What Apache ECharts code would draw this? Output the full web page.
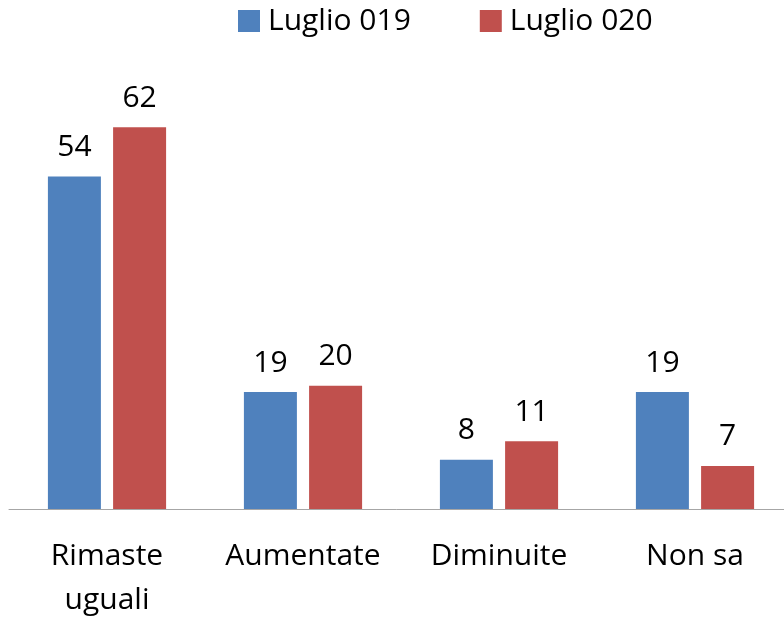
<!DOCTYPE html>
<html><head><meta charset="utf-8">
<script src="https://cdn.jsdelivr.net/npm/echarts@6/dist/echarts.min.js"></script>
<style>html,body{margin:0;padding:0;background:#fff}#c{width:784px;height:617px}</style>
</head><body><div id="c"></div>
<script>
const categories = ['Rimaste\nuguali', 'Aumentate', 'Diminuite', 'Non sa'];
const seriesNames = ['Luglio 019', 'Luglio 020'];
const values2019 = [54, 19, 8, 19];
const values2020 = [62, 20, 11, 7];
const colors = ['#4F81BD', '#C0504D'];
const FONT = 'Open Sans';
const FS = 30;
const chart = echarts.init(document.getElementById('c'));
chart.setOption({
  animation: false,
  textStyle: {fontFamily: FONT},
  legend: {
    top: 1, left: 233, itemWidth: 22, itemHeight: 22, itemGap: 69,
    icon: 'rect',
    textStyle: {fontFamily: FONT, fontSize: FS, color: '#000', padding: [0, 0, 0, 3]},
    data: seriesNames
  },
  grid: {left: 9, right: -9, top: 78, bottom: 108, outerBoundsMode: 'none', containLabel: false},
  xAxis: {
    type: 'category', data: categories,
    axisLine: {lineStyle: {color: '#A6A6A6', width: 1}},
    axisTick: {show: false},
    axisLabel: {fontFamily: FONT, fontSize: FS, color: '#000', lineHeight: 44, margin: 25, interval: 0}
  },
  yAxis: {type: 'value', min: 0, max: 70, show: false, splitLine: {show: false}},
  series: [
    {name: seriesNames[0], type: 'bar', data: values2019, barWidth: 53, barGap: '23%',
     itemStyle: {color: colors[0]},
     label: {show: true, position: 'top', distance: 14, fontFamily: FONT, fontSize: FS, color: '#000'}},
    {name: seriesNames[1], type: 'bar', data: values2020, barWidth: 53,
     itemStyle: {color: colors[1]},
     label: {show: true, position: 'top', distance: 14, fontFamily: FONT, fontSize: FS, color: '#000'}}
  ]
});
</script></body></html>
